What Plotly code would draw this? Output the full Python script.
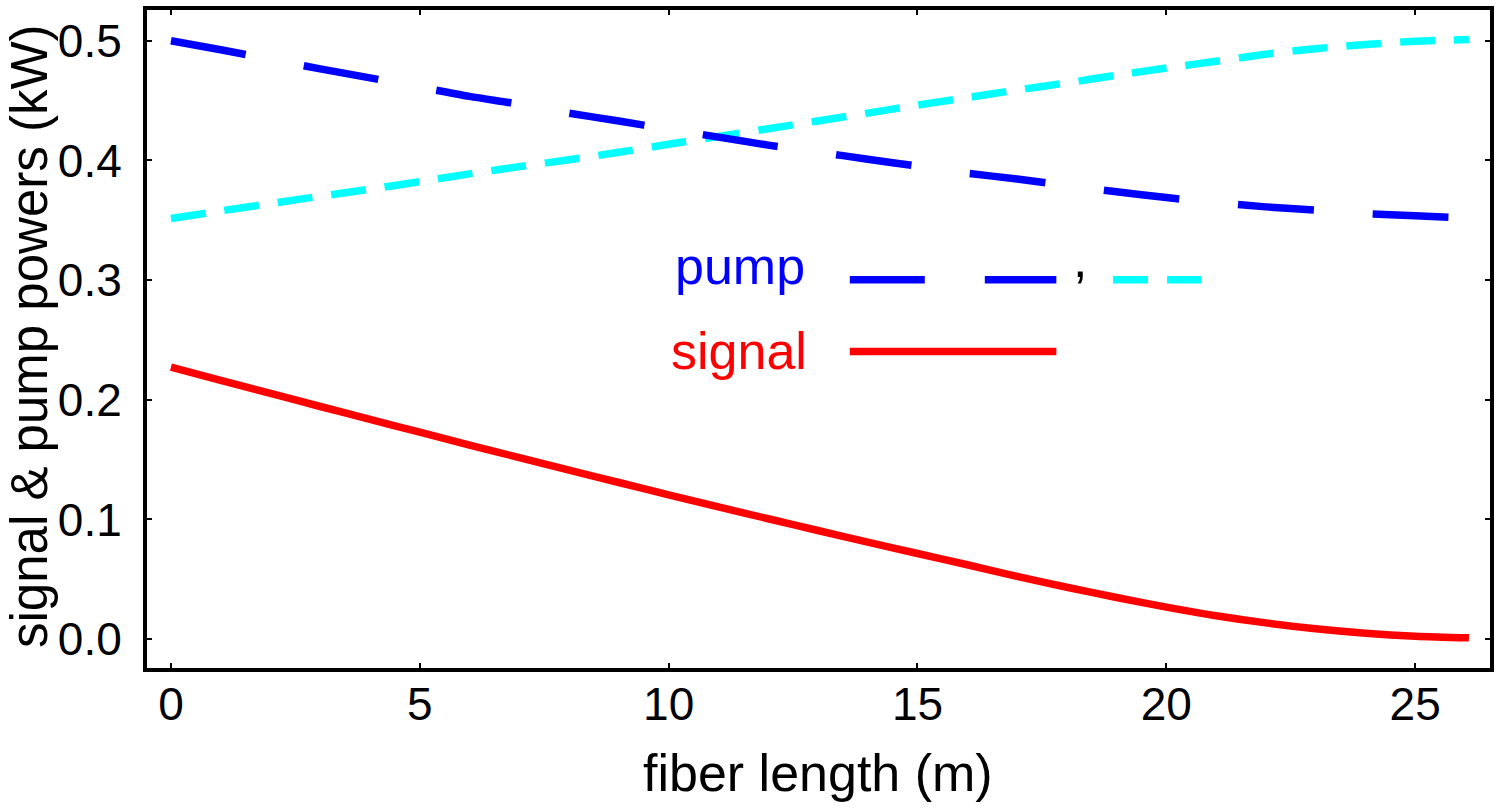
import plotly.graph_objects as go

# ---- data ----
fiber_length = [0, 1, 2, 3, 4, 5, 6, 7, 8, 9, 10, 11, 12, 13, 14, 15, 16, 17,
                18, 19, 20, 21, 22, 23, 24, 25, 26.08]
pump_forward = [0.5000, 0.4925, 0.4845, 0.4765, 0.4690, 0.4612, 0.4535, 0.4470,
                0.4395, 0.4330, 0.4260, 0.4195, 0.4128, 0.4070, 0.4010, 0.3952,
                0.3893, 0.3845, 0.3790, 0.3738, 0.3690, 0.3648, 0.3612, 0.3584,
                0.3556, 0.3537, 0.3520]
pump_backward = [0.3515, 0.3578, 0.3640, 0.3701, 0.3760, 0.3823, 0.3888, 0.3948,
                 0.4006, 0.4068, 0.4135, 0.4200, 0.4265, 0.4330, 0.4395, 0.4462,
                 0.4525, 0.4588, 0.4648, 0.4712, 0.4772, 0.4829, 0.4888, 0.4934,
                 0.4968, 0.4996, 0.5010]
signal = [0.2272, 0.2162, 0.2053, 0.1944, 0.1836, 0.1729, 0.1622, 0.1517, 0.1412,
          0.1309, 0.1206, 0.1105, 0.1006, 0.0908, 0.0811, 0.0716, 0.0622, 0.0524,
          0.0434, 0.0348, 0.0268, 0.0196, 0.0136, 0.0087, 0.0050, 0.0025, 0.0011]

x_ticks = [0, 5, 10, 15, 20, 25]
y_ticks = [0.0, 0.1, 0.2, 0.3, 0.4, 0.5]
y_tick_labels = ["0.0", "0.1", "0.2", "0.3", "0.4", "0.5"]

FONT = "Liberation Sans, Arial, sans-serif"
BLUE = "#0000FF"
CYAN = "#00FFFF"
RED = "#FF0000"
LW = 7.5

fig = go.Figure()
fig.add_trace(go.Scatter(x=fiber_length, y=signal, mode="lines",
                         line=dict(color=RED, width=LW, shape="spline", smoothing=0.8),
                         showlegend=False))
fig.add_trace(go.Scatter(x=fiber_length, y=pump_backward, mode="lines",
                         line=dict(color=CYAN, width=LW, dash="35px,19px",
                                   shape="spline", smoothing=0.8),
                         showlegend=False))
fig.add_trace(go.Scatter(x=fiber_length, y=pump_forward, mode="lines",
                         line=dict(color=BLUE, width=LW, dash="76px,59px",
                                   shape="spline", smoothing=0.8),
                         showlegend=False))

# in-plot legend (text + line samples)
fig.add_annotation(x=12.78, y=0.3115, xref="x", yref="y", text="pump",
                   showarrow=False, xanchor="right", yanchor="middle",
                   font=dict(family=FONT, size=52, color=BLUE))
fig.add_annotation(x=12.82, y=0.2409, xref="x", yref="y", text="signal",
                   showarrow=False, xanchor="right", yanchor="middle",
                   font=dict(family=FONT, size=52, color=RED))
fig.add_annotation(x=18.27, y=0.3173, xref="x", yref="y", text=",",
                   showarrow=False, xanchor="center", yanchor="middle",
                   font=dict(family=FONT, size=52, color="black"))
fig.add_shape(type="line", xref="x", yref="y", x0=13.64, x1=17.79, y0=0.3003, y1=0.3003,
              line=dict(color=BLUE, width=LW, dash="75px,60px"))
fig.add_shape(type="line", xref="x", yref="y", x0=18.93, x1=20.71, y0=0.3003, y1=0.3003,
              line=dict(color=CYAN, width=LW, dash="35px,19px"))
fig.add_shape(type="line", xref="x", yref="y", x0=13.64, x1=17.79, y0=0.2404, y1=0.2404,
              line=dict(color=RED, width=LW))

# axis titles
fig.add_annotation(x=0.4996, y=-0.1597, xref="paper", yref="paper",
                   text="fiber length (m)", showarrow=False,
                   xanchor="center", yanchor="middle",
                   font=dict(family=FONT, size=52, color="black"))
fig.add_annotation(x=-0.0875, y=0.5053, xref="paper", yref="paper",
                   text="signal &amp; pump powers (kW)", showarrow=False, textangle=-90,
                   xanchor="center", yanchor="middle",
                   font=dict(family=FONT, size=51, color="black"))

axis_common = dict(showline=True, linewidth=4, linecolor="black", mirror="ticks",
                   ticks="inside", ticklen=5, tickwidth=2, tickcolor="black",
                   showgrid=False, zeroline=False,
                   tickfont=dict(family=FONT, size=46, color="black"))
fig.update_xaxes(range=[-0.481, 26.503], tickvals=x_ticks, ticklabelstandoff=-7,
                 **axis_common)
fig.update_yaxes(range=[-0.0241, 0.5257], tickvals=y_ticks, ticktext=y_tick_labels,
                 ticklabelstandoff=12, **axis_common)

fig.update_layout(width=1500, height=807, margin=dict(l=147, r=6, t=6, b=139),
                  plot_bgcolor="white", paper_bgcolor="white", showlegend=False)

fig.write_html("out.html")
